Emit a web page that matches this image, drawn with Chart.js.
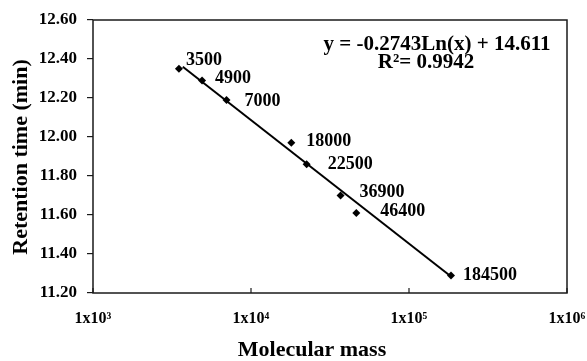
<!DOCTYPE html>
<html>
<head>
  <title>Retention time vs molecular mass</title>
  <script src="https://cdn.jsdelivr.net/npm/chart.js@4.4.0/dist/chart.umd.min.js"></script>
  <style>
    html, body { margin: 0; padding: 0; background: #fff; }
    #wrap { width: 587px; height: 361px; }
  </style>
</head>
<body>
  <div id="wrap"><canvas id="calib"></canvas></div>
  <script>
    // standards
    var masses = [3500, 4900, 7000, 18000, 22500, 36900, 46400, 184500];
    var retention = [12.35, 12.29, 12.19, 11.97, 11.86, 11.70, 11.61, 11.29];
    var massLabels = ['3500', '4900', '7000', '18000', '22500', '36900', '46400', '184500'];

    // fitted line endpoints as drawn
    var trendX = [3700, 184500];
    var trendY = [12.36, 11.285];

    var xTickValues = [1e3, 1e4, 1e5, 1e6];
    var xTickText = ['1x10\u00B3', '1x10\u2074', '1x10\u2075', '1x10\u2076'];

    var equationText = 'y = -0.2743Ln(x) + 14.611';
    var r2Text = 'R\u00B2= 0.9942';

    // label nudges in px (right, down) from each point
    var labelDx = [7, 13, 18, 15, 21, 19, 24, 12];
    var labelDy = [-8, -2, 1, -2, 0, -3, -2, 0];

    var serif = "'Liberation Serif', 'Times New Roman', serif";

    var extras = {
      id: 'extras',
      afterDraw: function(chart) {
        var ctx = chart.ctx;
        var a = chart.chartArea;
        var xs = chart.scales.x;
        ctx.save();
        // box
        ctx.strokeStyle = '#1a1a1a';
        ctx.lineWidth = 1.5;
        ctx.strokeRect(a.left, a.top, a.right - a.left, a.bottom - a.top);
        // inward ticks on x
        ctx.lineWidth = 1.2;
        xTickValues.forEach(function(v) {
          var px = xs.getPixelForValue(v);
          ctx.beginPath();
          ctx.moveTo(px, a.bottom);
          ctx.lineTo(px, a.bottom - 5);
          ctx.stroke();
        });
        // point labels
        var meta = chart.getDatasetMeta(0);
        ctx.fillStyle = '#000';
        ctx.font = 'bold 18px ' + serif;
        ctx.textAlign = 'left';
        ctx.textBaseline = 'middle';
        meta.data.forEach(function(pt, i) {
          ctx.fillText(massLabels[i], pt.x + labelDx[i], pt.y + labelDy[i]);
        });
        // equation
        ctx.textAlign = 'center';
        ctx.font = 'bold 21px ' + serif;
        ctx.fillText(equationText, 437, 45);
        ctx.fillText(r2Text, 426, 63);
        // axis titles
        ctx.font = 'bold 22px ' + serif;
        ctx.fillText('Molecular mass', 312, 350);
        ctx.translate(21, 157);
        ctx.rotate(-Math.PI / 2);
        ctx.fillText('Retention time (min)', 0, 0);
        ctx.restore();
      }
    };

    new Chart(document.getElementById('calib'), {
      type: 'scatter',
      data: {
        datasets: [
          {
            data: masses.map(function(m, i) { return { x: m, y: retention[i] }; }),
            pointStyle: 'rectRot',
            pointRadius: 4,
            backgroundColor: '#000',
            borderColor: '#000',
            borderWidth: 0
          },
          {
            data: trendX.map(function(m, i) { return { x: m, y: trendY[i] }; }),
            showLine: true,
            pointRadius: 0,
            borderColor: '#000',
            borderWidth: 2
          }
        ]
      },
      options: {
        responsive: true,
        maintainAspectRatio: false,
        animation: false,
        layout: { padding: { left: 0, top: 20, right: 20, bottom: 0 } },
        plugins: {
          legend: { display: false },
          tooltip: { enabled: false }
        },
        scales: {
          x: {
            type: 'logarithmic',
            min: 1e3,
            max: 1e6,
            afterBuildTicks: function(scale) {
              scale.ticks = xTickValues.map(function(v) { return { value: v, major: true }; });
            },
            afterFit: function(scale) {
              scale.height = 68;
              scale.paddingLeft = 0;
              scale.paddingRight = 0;
            },
            grid: { display: false, drawTicks: false },
            border: { display: false },
            ticks: {
              padding: 16,
              color: '#000',
              autoSkip: false,
              maxRotation: 0,
              font: { family: serif, size: 16, weight: 'bold' },
              callback: function(v) {
                var i = xTickValues.indexOf(v);
                return i >= 0 ? xTickText[i] : '';
              }
            }
          },
          y: {
            min: 11.2,
            max: 12.6,
            afterFit: function(scale) {
              scale.width = 93;
              scale.paddingTop = 0;
              scale.paddingBottom = 0;
            },
            grid: { drawOnChartArea: false, drawTicks: true, tickLength: 6, color: '#1a1a1a', lineWidth: 1.2 },
            border: { display: false },
            ticks: {
              stepSize: 0.2,
              padding: 10,
              color: '#000',
              font: { family: serif, size: 17, weight: 'bold' },
              callback: function(v) { return Number(v).toFixed(2); }
            }
          }
        }
      },
      plugins: [extras]
    });
  </script>
</body>
</html>
